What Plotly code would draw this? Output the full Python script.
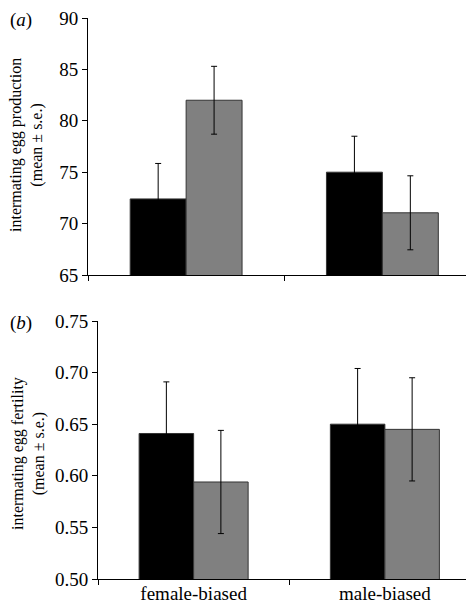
import plotly.graph_objects as go

categories = ["female-biased", "male-biased"]

# panel (a): intermating egg production
prod_black = [72.4, 75.0]
prod_black_se = [3.45, 3.5]
prod_gray = [82.0, 71.05]
prod_gray_se = [3.3, 3.6]

# panel (b): intermating egg fertility
fert_black = [0.641, 0.650]
fert_black_se = [0.050, 0.054]
fert_gray = [0.594, 0.645]
fert_gray_se = [0.050, 0.050]

prod_ticks = [65, 70, 75, 80, 85, 90]
fert_ticks = [0.50, 0.55, 0.60, 0.65, 0.70, 0.75]

W, H = 474, 605
FONT = "Liberation Serif"
FS_TICK = 19
FS_TITLE = 16

def bar(x, y, se, color, xa, ya):
    return go.Bar(
        x=x, y=y, xaxis=xa, yaxis=ya,
        marker=dict(color=color, line=dict(color="#333333", width=1)),
        error_y=dict(type="data", array=se, visible=True, color="#000000",
                     thickness=1, width=3),
        showlegend=False,
    )

fig = go.Figure()
fig.add_trace(bar(categories, prod_black, prod_black_se, "#000000", "x", "y"))
fig.add_trace(bar(categories, prod_gray, prod_gray_se, "#808080", "x", "y"))
fig.add_trace(bar(categories, fert_black, fert_black_se, "#000000", "x2", "y2"))
fig.add_trace(bar(categories, fert_gray, fert_gray_se, "#808080", "x2", "y2"))

def px_x(v):
    return v / W

def px_y(v):
    return 1 - v / H

common_x = dict(type="category", range=[-0.5, 1.5], showline=True, linecolor="#000000",
                linewidth=1, ticks="outside", tickson="boundaries", ticklen=5,
                tickcolor="#000000", showgrid=False, zeroline=False, automargin=False,
                ticklabeloverflow="allow",
                tickfont=dict(family=FONT, size=FS_TICK, color="#000000"))
common_y = dict(showline=True, linecolor="#000000", linewidth=1, ticks="outside",
                ticklen=5, tickcolor="#000000", showgrid=False, zeroline=False,
                automargin=False, ticklabeloverflow="allow",
                tickfont=dict(family=FONT, size=FS_TICK, color="#000000"))

fig.update_layout(
    width=W, height=H,
    margin=dict(l=0, r=0, t=0, b=0),
    paper_bgcolor="white", plot_bgcolor="white",
    barmode="group", bargap=0.43, bargroupgap=0,
    font=dict(family=FONT, size=FS_TICK, color="#000000"),
    xaxis=dict(common_x, domain=[px_x(80), px_x(472.5)], anchor="y", showticklabels=False),
    yaxis=dict(common_y, domain=[px_y(267), px_y(10)], anchor="x", range=[65, 90],
               tickvals=prod_ticks),
    xaxis2=dict(common_x, domain=[px_x(90), px_x(472.5)], anchor="y2", showticklabels=True,
                ticklabelstandoff=-3),
    yaxis2=dict(common_y, domain=[px_y(571), px_y(313)], anchor="x2", range=[0.5, 0.75],
                tickvals=fert_ticks, tickformat=".2f"),
    annotations=[
        dict(text="(<i>a</i>)", xref="paper", yref="paper", x=0, y=px_y(12),
             xanchor="left", yanchor="middle", showarrow=False,
             font=dict(family=FONT, size=FS_TICK)),
        dict(text="(<i>b</i>)", xref="paper", yref="paper", x=0, y=px_y(315),
             xanchor="left", yanchor="middle", showarrow=False,
             font=dict(family=FONT, size=FS_TICK)),
        dict(text="intermating egg production<br>(mean ± s.e.)", xref="paper", yref="paper",
             x=px_x(18), y=px_y(137), textangle=-90, xanchor="center", yanchor="middle",
             showarrow=False, font=dict(family=FONT, size=FS_TITLE)),
        dict(text="intermating egg fertility<br>(mean ± s.e.)", xref="paper", yref="paper",
             x=px_x(20), y=px_y(446), textangle=-90, xanchor="center", yanchor="middle",
             showarrow=False, font=dict(family=FONT, size=FS_TITLE)),
    ],
)

fig.write_html("out.html")
